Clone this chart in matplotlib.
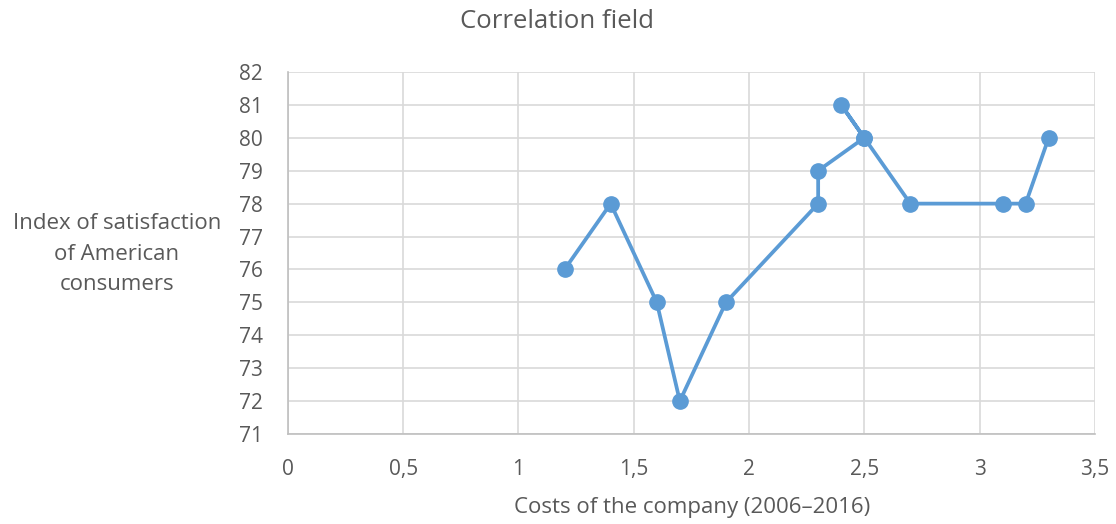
import matplotlib
matplotlib.use("Agg")
import matplotlib.pyplot as plt
from matplotlib.ticker import FuncFormatter, MultipleLocator

costs = [1.2, 1.4, 1.6, 1.7, 1.9, 2.3, 2.3, 2.5, 2.4, 2.5, 2.7, 3.1, 3.2, 3.3]
index = [76, 78, 75, 72, 75, 78, 79, 80, 81, 80, 78, 78, 78, 80]

title = "Correlation field"
xlabel = "Costs of the company (2006\u20132016)"
ylabel = "Index of satisfaction\nof American\nconsumers"

plt.rcParams['font.family'] = ['Open Sans', 'DejaVu Sans']
txt = '#595959'

fig = plt.figure(figsize=(11.16, 5.24), dpi=100)
ax = fig.add_axes([0.258, 0.1718, 0.723, 0.6908])

ax.plot(costs, index, color='#5B9BD5', linewidth=2.7, marker='o',
        markersize=11, zorder=3, solid_capstyle='round')

ax.set_xlim(0, 3.5)
ax.set_ylim(71, 82)
ax.xaxis.set_major_locator(MultipleLocator(0.5))
ax.yaxis.set_major_locator(MultipleLocator(1))
ax.xaxis.set_major_formatter(FuncFormatter(lambda v, p: (f"{v:g}").replace('.', ',')))
ax.grid(True, color='#D9D9D9', linewidth=1.2)
ax.set_axisbelow(True)
for s in ['top', 'right']:
    ax.spines[s].set_visible(False)
for s in ['left', 'bottom']:
    ax.spines[s].set_color('#BFBFBF')
    ax.spines[s].set_linewidth(1.2)
ax.tick_params(axis='both', length=0, labelsize=15, labelcolor=txt)
ax.tick_params(axis='x', pad=18)
ax.tick_params(axis='y', pad=18)

fig.text(557 / 1116, 1 - 21 / 524, title, ha='center', va='center', fontsize=18.5, color=txt)
fig.text(692 / 1116, 1 - 508 / 524, xlabel, ha='center', va='center', fontsize=16, color=txt)
fig.text(117 / 1116, 1 - 254 / 524, ylabel, ha='center', va='center',
         fontsize=16, color=txt, linespacing=1.6)

fig.savefig("out.png", dpi=100)
